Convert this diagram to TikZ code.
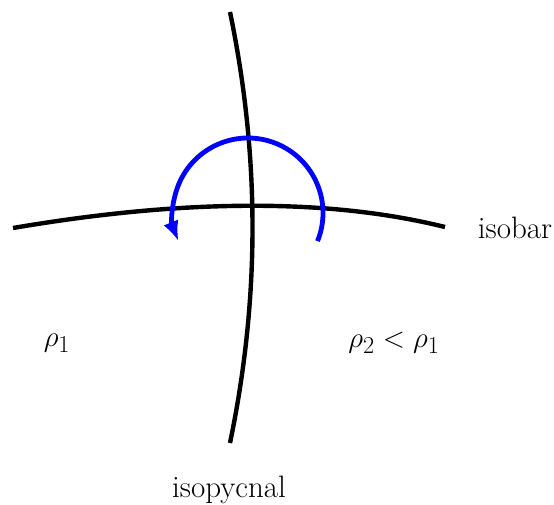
\documentclass[tikz,border=0pt]{standalone}
\usepackage{graphicx}
\usetikzlibrary{arrows.meta,calc}
\begin{document}
\begin{tikzpicture}[x=1pt,y=1pt,
  curve/.style={line width=4.4pt, black},
  circ/.style={line width=4.8pt, blue, -{Latex[length=20pt,width=16pt]}},
  lbl/.style={font=\fontsize{31}{36}\selectfont, inner sep=0pt},
  mlbl/.style={font=\fontsize{24.88}{30}\selectfont, inner sep=0pt}]
\useasboundingbox (0,0) rectangle (554,504);
\coordinate (isoL) at (13,276);
\coordinate (isoR) at (445,277);
\coordinate (pycT) at (230,492);
\coordinate (pycB) at (230,61);
\coordinate (ctr) at (248,291);
\draw[curve] (isoL) .. controls (185,305.3) and (329,305.7) .. (isoR);
\draw[curve] (pycB) .. controls (260,206) and (260,347) .. (pycT);
\coordinate (arcS) at ($(ctr)+(-22:75)$);
\draw[circ] (arcS) arc[start angle=-22, end angle=202, radius=75];
\node[lbl] (isobar) at (515,276) {isobar};
\node[lbl] (isopycnal) at (229,14) {isopycnal};
\node[mlbl] (rhoa) at (57,161) {\scalebox{1.17}{$\rho_1$}};
\node[mlbl] (rhob) at (394,161) {\scalebox{1.17}{$\rho_2<\rho_1$}};
\end{tikzpicture}
\end{document}
